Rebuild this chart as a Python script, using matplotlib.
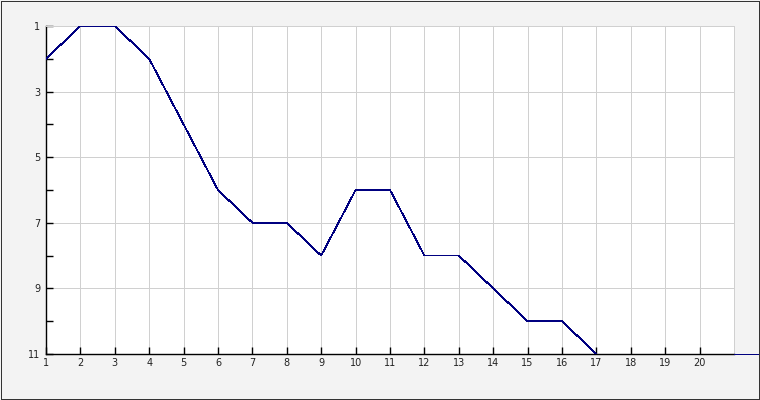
import numpy as np
import matplotlib
matplotlib.use("Agg")
import matplotlib.pyplot as plt

x_vals = list(range(1, 18))
ranks = [2, 1, 1, 2, 4, 6, 7, 7, 8, 6, 6, 8, 8, 9, 10, 10, 11]
x_ticks = list(range(1, 21))
y_ticks = [1, 3, 5, 7, 9, 11]
tail_x = [21, 21.72]
tail_y = [11, 11]

W, H = 760, 400
PX = 0.72
fig = plt.figure(figsize=(W / 100, H / 100), dpi=100)
fig.patch.set_facecolor("#f3f3f3")
fig.add_artist(plt.Rectangle((0.5 / W, 1.0 / H), 1 - 1.6 / W, 1 - 1.6 / H,
                             transform=fig.transFigure, fill=False,
                             edgecolor="#333333", linewidth=PX,
                             antialiased=False))

left, right, top, bottom = 46, 734, 26, 354
ax = fig.add_axes([left / W, 1 - bottom / H, (right - left) / W, (bottom - top) / H])
ax.set_facecolor("white")
ax.set_xlim(1, 21)
ax.set_ylim(11, 1)

ax.plot(x_vals, ranks, color="#000080", linewidth=0.55, antialiased=False, zorder=3)
ax.plot(tail_x, tail_y, color="#000080", linewidth=PX, antialiased=False,
        clip_on=False, zorder=3)

ax.set_xticks(x_ticks)
ax.set_xticklabels([str(v) for v in x_ticks])
ax.set_yticks(list(range(1, 12)))
ax.set_yticklabels([str(v) if v in y_ticks else "" for v in range(1, 12)])

for v in x_ticks[1:]:
    ax.axvline(v, color="#d0d0d0", linewidth=PX, antialiased=False, zorder=1)
for v in y_ticks[1:-1]:
    ax.axhline(v, color="#d0d0d0", linewidth=PX, antialiased=False, zorder=1)

ax.tick_params(axis="both", direction="in", length=5, width=PX * 1.4, color="black",
               labelsize=7, labelcolor="#222222")
ax.tick_params(axis="x", pad=3)
ax.tick_params(axis="y", pad=4)
for s in ["left", "bottom"]:
    ax.spines[s].set_color("black")
    ax.spines[s].set_linewidth(PX * 1.4)
for s in ["top", "right"]:
    ax.spines[s].set_color("#d0d0d0")
    ax.spines[s].set_linewidth(PX)

fig.savefig("out.png", dpi=100, facecolor=fig.get_facecolor())
